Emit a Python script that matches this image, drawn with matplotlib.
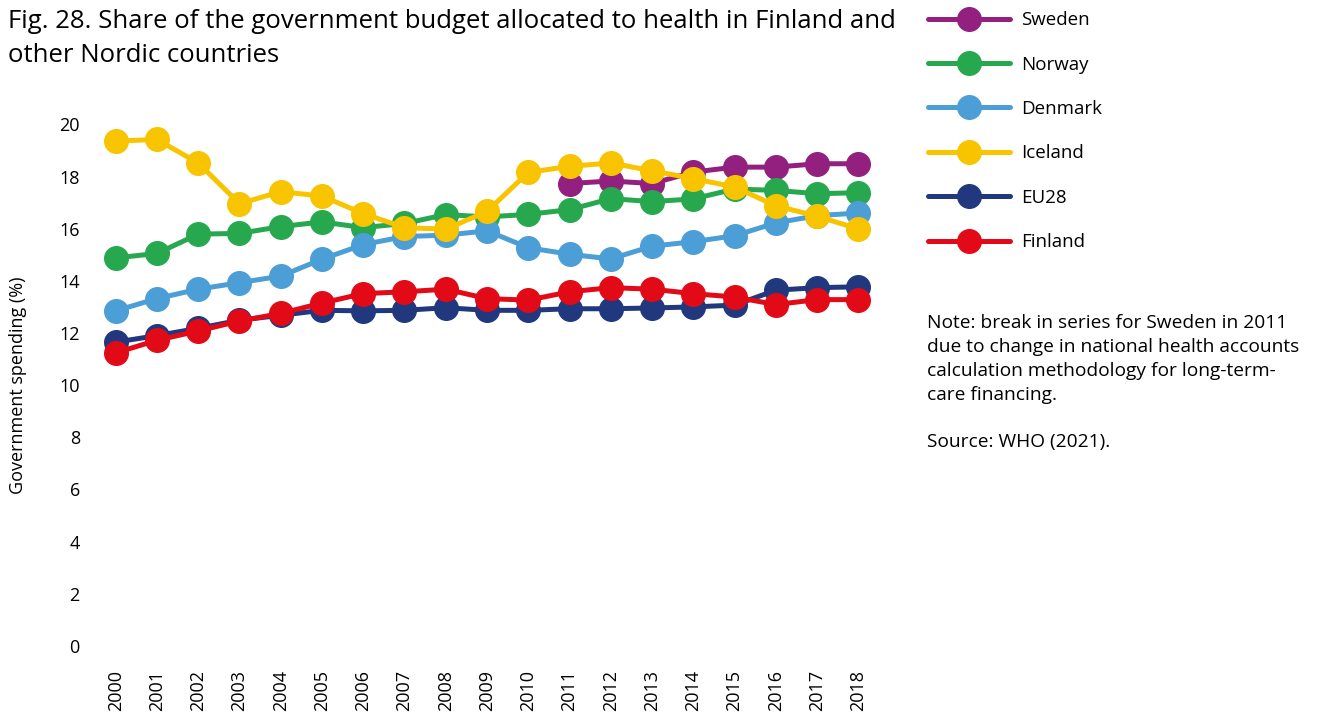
import matplotlib
matplotlib.use("Agg")
import matplotlib.pyplot as plt

# ----------------------------------------------------------
# Data: share of government budget allocated to health (%)
# ----------------------------------------------------------
years = list(range(2000, 2019))

sweden = [None] * 11 + [17.73, 17.83, 17.73, 18.17, 18.36, 18.36, 18.49, 18.49]
norway = [14.88, 15.05, 15.79, 15.82, 16.08, 16.26, 16.04, 16.2, 16.54, 16.45,
          16.55, 16.73, 17.15, 17.04, 17.14, 17.52, 17.47, 17.34, 17.38]
denmark = [12.85, 13.32, 13.68, 13.93, 14.18, 14.83, 15.39, 15.7, 15.75, 15.92,
           15.27, 15.02, 14.84, 15.33, 15.5, 15.73, 16.22, 16.5, 16.6]
iceland = [19.36, 19.42, 18.52, 16.96, 17.42, 17.25, 16.58, 16.04, 15.98, 16.66,
           18.16, 18.39, 18.52, 18.22, 17.92, 17.6, 16.88, 16.48, 15.99]
eu28 = [11.65, 11.9, 12.18, 12.49, 12.68, 12.87, 12.85, 12.87, 12.97, 12.87,
        12.87, 12.93, 12.93, 12.96, 13.0, 13.07, 13.64, 13.74, 13.77]
finland = [11.24, 11.72, 12.08, 12.46, 12.75, 13.15, 13.51, 13.58, 13.68, 13.32,
           13.26, 13.58, 13.74, 13.68, 13.51, 13.38, 13.09, 13.28, 13.28]

series = [
    ("Sweden", sweden, "#93207F"),
    ("Norway", norway, "#27A84F"),
    ("Denmark", denmark, "#4C9ED6"),
    ("Iceland", iceland, "#F8C400"),
    ("EU28", eu28, "#22387E"),
    ("Finland", finland, "#E20A17"),
]

plt.rcParams["font.family"] = ["Open Sans", "DejaVu Sans"]

fig = plt.figure(figsize=(13.18, 7.15), dpi=100)
ax = fig.add_axes([0.069, 0.0783, 0.601, 0.766])

# draw in legend order so Finland ends up on top
handles = []
for name, vals, col in series:
    xs = [y for y, v in zip(years, vals) if v is not None]
    ys = [v for v in vals if v is not None]
    ln, = ax.plot(xs, ys, color=col, lw=3.6, marker="o", ms=17,
                  solid_capstyle="round", label=name)
    handles.append(ln)

ax.set_xlim(1999.4, 2018.6)
ax.set_ylim(-0.5, 20.5)
ax.set_yticks(range(0, 21, 2))
ax.set_xticks(years)
ax.set_xticklabels([str(y) for y in years], rotation=90)
ax.tick_params(length=0, labelsize=13, pad=8)
for s in ax.spines.values():
    s.set_visible(False)

ax.set_ylabel("Government spending (%)", fontsize=13, labelpad=23)

fig.text(0.006, 0.988, "Fig. 28. Share of the government budget allocated to health in Finland and\nother Nordic countries",
         fontsize=18.5, va="top", ha="left", linespacing=1.5)

leg = fig.legend(handles, [n for n, _, _ in series],
                 loc="upper left", bbox_to_anchor=(0.691, 1.008), frameon=False,
                 fontsize=13.5, handlelength=4.4, labelspacing=1.41,
                 handletextpad=0.6)

fig.text(0.703, 0.561, "Note: break in series for Sweden in 2011\n"
         "due to change in national health accounts\n"
         "calculation methodology for long-term-\ncare financing.\n\nSource: WHO (2021).",
         fontsize=13.8, va="top", ha="left", linespacing=1.42)

fig.savefig("out.png", dpi=100)
